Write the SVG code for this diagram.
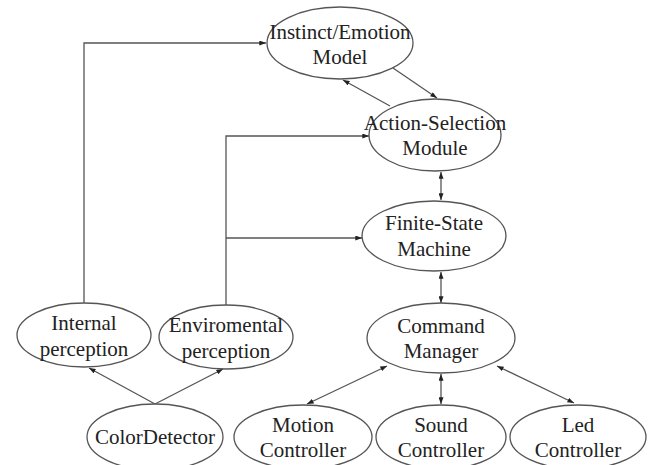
<svg xmlns="http://www.w3.org/2000/svg" width="654" height="465" viewBox="0 0 654 465">
  <style>
    .node ellipse { fill: #ffffff; stroke: #555555; stroke-width: 1.3; }
    .node text { font-family: "Liberation Serif", "Times New Roman", serif; font-size: 21px; fill: #222222; text-anchor: middle; }
    .edge { fill: none; stroke: #555555; stroke-width: 1.3; }
  </style>
  <defs>
    <marker id="tip" viewBox="0 0 8 6" refX="8" refY="3" markerWidth="7" markerHeight="5" markerUnits="userSpaceOnUse" orient="auto-start-reverse">
      <path d="M0,0 L8,3 L0,6 Z" fill="#222222"/>
    </marker>
  </defs>

  <rect width="654" height="465" fill="#ffffff"/>

  <g id="connectors">
    <!-- perception feeds -->
    <path class="edge" d="M84,303 V43 H266" marker-end="url(#tip)"/>
    <path class="edge" d="M226,305 V136 H369" marker-end="url(#tip)"/>
    <path class="edge" d="M226,238 H362" marker-end="url(#tip)"/>
    <!-- colour detector to perceptions -->
    <path class="edge" d="M155,404 L89,368" marker-end="url(#tip)"/>
    <path class="edge" d="M155,404 L223,369" marker-end="url(#tip)"/>
    <!-- instinct / action selection loop -->
    <path class="edge" d="M390,106 L343,80" marker-end="url(#tip)"/>
    <path class="edge" d="M393,68 L437,98" marker-end="url(#tip)"/>
    <!-- vertical chain -->
    <path class="edge" d="M441,172 V200" marker-start="url(#tip)" marker-end="url(#tip)"/>
    <path class="edge" d="M441,272 V303" marker-start="url(#tip)" marker-end="url(#tip)"/>
    <!-- command manager to controllers -->
    <path class="edge" d="M387,366 L307,404" marker-start="url(#tip)" marker-end="url(#tip)"/>
    <path class="edge" d="M441,374 V404" marker-start="url(#tip)" marker-end="url(#tip)"/>
    <path class="edge" d="M497,366 L574,403" marker-start="url(#tip)" marker-end="url(#tip)"/>
  </g>

  <g id="instinct-emotion" class="node">
    <ellipse cx="340" cy="43" rx="73" ry="36"/>
    <text x="340" y="39">Instinct/Emotion</text>
    <text x="340" y="64">Model</text>
  </g>
  <g id="action-selection" class="node">
    <ellipse cx="435" cy="135" rx="66" ry="36"/>
    <text x="435" y="130">Action-Selection</text>
    <text x="435" y="155">Module</text>
  </g>
  <g id="finite-state" class="node">
    <ellipse cx="434" cy="236" rx="72" ry="35"/>
    <text x="434" y="230">Finite-State</text>
    <text x="434" y="256">Machine</text>
  </g>
  <g id="command-manager" class="node">
    <ellipse cx="441" cy="338" rx="74" ry="35"/>
    <text x="441" y="333">Command</text>
    <text x="441" y="358">Manager</text>
  </g>
  <g id="internal-perception" class="node">
    <ellipse cx="84" cy="335" rx="67" ry="32"/>
    <text x="84" y="330">Internal</text>
    <text x="84" y="356">perception</text>
  </g>
  <g id="environmental-perception" class="node">
    <ellipse cx="226" cy="337" rx="67" ry="32"/>
    <text x="226" y="332">Enviromental</text>
    <text x="226" y="358">perception</text>
  </g>
  <g id="color-detector" class="node">
    <ellipse cx="155" cy="437" rx="68" ry="33"/>
    <text x="155" y="444">ColorDetector</text>
  </g>
  <g id="motion-controller" class="node">
    <ellipse cx="303" cy="437" rx="69" ry="32"/>
    <text x="303" y="432">Motion</text>
    <text x="303" y="457">Controller</text>
  </g>
  <g id="sound-controller" class="node">
    <ellipse cx="441" cy="437" rx="65" ry="32"/>
    <text x="441" y="432">Sound</text>
    <text x="441" y="457">Controller</text>
  </g>
  <g id="led-controller" class="node">
    <ellipse cx="578" cy="437" rx="68" ry="32"/>
    <text x="578" y="432">Led</text>
    <text x="578" y="457">Controller</text>
  </g>
</svg>
